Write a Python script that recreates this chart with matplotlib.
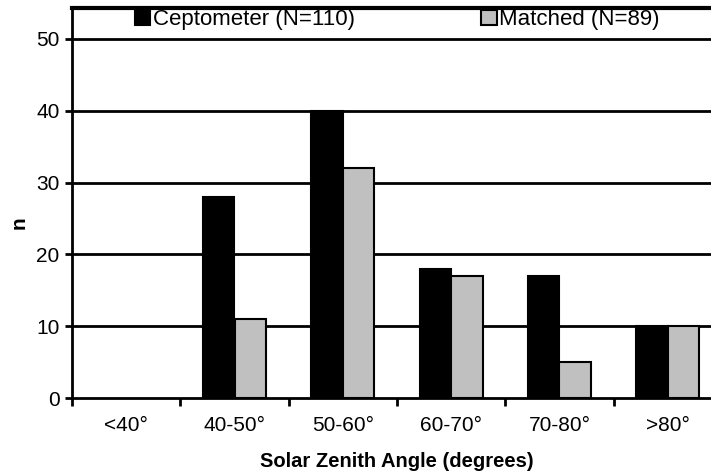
import matplotlib.pyplot as plt
import numpy as np
from matplotlib.patches import Patch

plt.rcParams['font.family'] = ['Liberation Sans', 'DejaVu Sans']

categorias = ['<40°', '40-50°', '50-60°', '60-70°', '70-80°', '>80°']
ceptometer = [0, 28, 40, 18, 17, 10]
matched = [0, 11, 32, 17, 5, 10]
rotulos = ['Ceptometer (N=110)', 'Matched (N=89)']
cores = ['black', '#c0c0c0']

fig = plt.figure(figsize=(7.11, 4.72), dpi=100)
# o eixo passa um pouco da borda direita, como no original
ax = fig.add_axes([72/711, 74/472, 650/711, 390/472])

x = np.arange(len(categorias))
w = 0.29
# barras de altura zero sem contorno
lw_c = [1.5 if v else 0 for v in ceptometer]
lw_m = [1.5 if v else 0 for v in matched]
ax.bar(x - w/2, ceptometer, w, color=cores[0], edgecolor='black', linewidth=lw_c, zorder=3)
ax.bar(x + w/2, matched, w, color=cores[1], edgecolor='black', linewidth=lw_m, zorder=3)

ax.set_xlim(-0.5, len(categorias) - 0.5)
ax.set_ylim(0, 54.3)
ax.set_yticks(range(0, 51, 10))
for v in range(10, 51, 10):
    ax.axhline(v, color='black', linewidth=2, zorder=1)

ax.set_xticks(x)
ax.set_xticklabels(categorias)
ax.set_xticks(np.arange(-0.5, len(categorias)), minor=True)
ax.tick_params(axis='x', which='major', length=0, pad=13, labelsize=15)
ax.tick_params(axis='x', which='minor', length=6, width=2, direction='out')
ax.tick_params(axis='y', length=5, width=2, labelsize=15, pad=4)

ax.spines['top'].set_linewidth(3)
ax.spines['left'].set_linewidth(2)
ax.spines['bottom'].set_linewidth(2)
ax.spines['right'].set_linewidth(2)

ax.set_xlabel('Solar Zenith Angle (degrees)', fontsize=14.5, fontweight='bold')
ax.xaxis.set_label_coords(0.5, -0.139)
ax.set_ylabel('n', fontsize=15, fontweight='bold')
ax.yaxis.set_label_coords(-0.0815, 0.45)
ax.yaxis.label.set_va('center')

handles = [Patch(facecolor=c, edgecolor='black', linewidth=1.5) for c in cores]
ax.legend(handles, rotulos, loc='upper left', bbox_to_anchor=(0.083, 1.02), ncol=2,
          frameon=False, fontsize=16, handlelength=0.7, handleheight=0.7,
          handletextpad=0.1, columnspacing=5.7, borderaxespad=0)

fig.savefig('out.png', dpi=100)
